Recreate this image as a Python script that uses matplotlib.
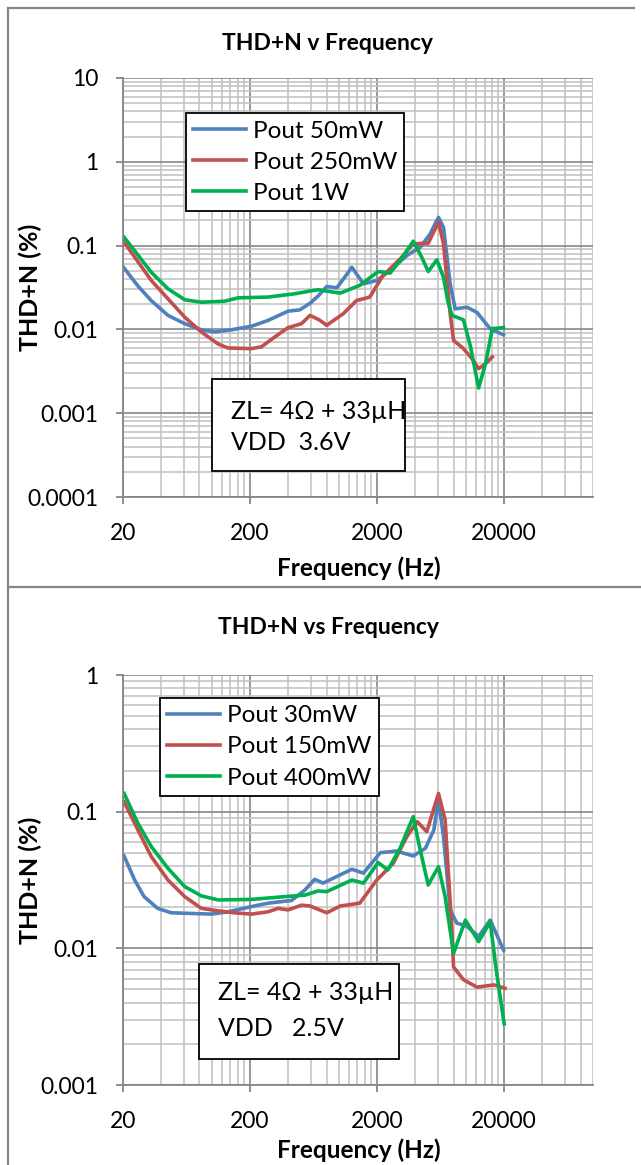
import numpy as np
import matplotlib
matplotlib.use("Agg")
import matplotlib.pyplot as plt
from matplotlib.ticker import FixedLocator, FixedFormatter, NullFormatter
from matplotlib.patches import Rectangle
from matplotlib.lines import Line2D

plt.rcParams['font.family'] = ['Lato', 'DejaVu Sans']

W, H = 641, 1165

# ---- top chart: VDD 3.6V ----
f_50mw = [20, 26.2, 33.4, 45.2, 61.2, 82.8, 105, 143, 205, 277, 398, 492, 593, 686,
          803, 964, 1150, 1265, 1560, 1988, 2529, 3424, 4365, 5230, 5700, 6082, 6660,
          7515, 8225, 10170, 12190, 15520, 19770]
thd_50mw = [0.056, 0.033, 0.022, 0.0147, 0.0117, 0.0099, 0.0093, 0.0099, 0.0109, 0.0128,
            0.0165, 0.0171, 0.0205, 0.025, 0.0325, 0.0314, 0.045, 0.0552, 0.035, 0.0383,
            0.0504, 0.076, 0.0955, 0.138, 0.18, 0.217, 0.165, 0.035, 0.0176, 0.0184,
            0.016, 0.0102, 0.0086]

f_250mw = [20.4, 33.4, 61.2, 82.8, 112, 134, 205, 246, 312, 398, 508, 593, 700, 803,
           1083, 1378, 1750, 2227, 3030, 3850, 5050, 6082, 6660, 7515, 7990, 9560,
           11120, 12580, 14250, 16140]
thd_250mw = [0.11, 0.0383, 0.014, 0.0093, 0.0067, 0.006, 0.0059, 0.0062, 0.0081, 0.0105,
             0.0117, 0.0147, 0.013, 0.0112, 0.0154, 0.0221, 0.0243, 0.044, 0.069, 0.105,
             0.107, 0.19, 0.105, 0.0154, 0.0074, 0.0059, 0.0045, 0.0034, 0.0039, 0.0047]

f_1w = [20.4, 33.4, 45.2, 61.2, 82.8, 126, 161, 277, 448, 593, 686, 1025, 1460, 2036,
        2529, 3030, 3850, 4490, 5050, 5900, 6660, 7180, 7750, 9560, 10870, 12580, 14250,
        16140, 19770]
thd_1w = [0.126, 0.048, 0.0305, 0.0226, 0.0211, 0.0217, 0.0238, 0.0243, 0.0266, 0.0287,
          0.0297, 0.0271, 0.0335, 0.049, 0.047, 0.066, 0.113, 0.0726, 0.049, 0.0675,
          0.042, 0.0221, 0.0147, 0.013, 0.0062, 0.002, 0.0039, 0.0102, 0.0105]

# ---- bottom chart: VDD 2.5V ----
f_30mw = [20.4, 24.7, 29.3, 37.5, 47.9, 69, 99, 134, 205, 277, 424, 540, 646, 750, 1265,
          1560, 2119, 2840, 3850, 4800, 5590, 6082, 6660, 7515, 8480, 10170, 12580,
          15520, 19770]
thd_30mw = [0.0474, 0.0316, 0.0239, 0.0196, 0.0182, 0.018, 0.0178, 0.0185, 0.0202, 0.0214,
            0.0224, 0.0267, 0.032, 0.030, 0.0379, 0.0355, 0.0501, 0.0515, 0.0474, 0.054,
            0.0735, 0.122, 0.0656, 0.0191, 0.0153, 0.0145, 0.0122, 0.0161, 0.0097]

f_150mw = [20.4, 26.2, 33.4, 45.2, 61.2, 82.8, 112, 150, 205, 277, 332, 398, 508, 593,
           803, 1025, 1460, 1988, 2680, 3424, 4130, 4920, 6082, 6860, 7750, 7990, 9560,
           12190, 16630, 20300]
thd_150mw = [0.118, 0.0735, 0.0469, 0.0316, 0.0239, 0.0196, 0.0188, 0.0182, 0.0178, 0.0185,
             0.0196, 0.0191, 0.0207, 0.0204, 0.0182, 0.0204, 0.0214, 0.0316, 0.0419,
             0.0656, 0.0845, 0.0714, 0.136, 0.087, 0.0136, 0.0073, 0.0059, 0.0052, 0.0054,
             0.0051]

f_400mw = [20.4, 26.2, 33.4, 45.2, 61.2, 82.8, 112, 205, 375, 540, 686, 803, 1265, 1560,
           2036, 2430, 3030, 3850, 4365, 5050, 6082, 6860, 7990, 9900, 12580, 15520,
           17300, 20000]
thd_400mw = [0.136, 0.0822, 0.0555, 0.0385, 0.0283, 0.0242, 0.0226, 0.0228, 0.0239, 0.0245,
             0.0263, 0.026, 0.0316, 0.030, 0.0424, 0.0375, 0.054, 0.092, 0.0525, 0.0291,
             0.0396, 0.0239, 0.0092, 0.0161, 0.0112, 0.0156, 0.007, 0.0028]

x_ticks = [20, 200, 2000, 20000]
x_ticklabels = ['20', '200', '2000', '20000']
y_ticks_top = [0.0001, 0.001, 0.01, 0.1, 1, 10]
y_labels_top = ['0.0001', '0.001', '0.01', '0.1', '1', '10']
y_ticks_bot = [0.001, 0.01, 0.1, 1]
y_labels_bot = ['0.001', '0.01', '0.1', '1']

BLUE, RED, GREEN = '#4F81BD', '#C0504D', '#00B050'
MAJ, MIN = '#868686', '#C0C0C0'
FS = 16.5      # tick labels
LFS = 17.5     # legend
BFS = 18       # note boxes


def fx(px):
    return px / W


def fy(py):
    return 1 - py / H


def setup_axes(ax, yticks, ylabels):
    ax.set_xscale('log')
    ax.set_yscale('log')
    ax.set_xlim(20, 100000)
    ax.set_ylim(yticks[0], yticks[-1])
    ax.xaxis.set_major_locator(FixedLocator(x_ticks))
    ax.xaxis.set_major_formatter(FixedFormatter(x_ticklabels))
    xminor = [d * k for d in [20, 200, 2000, 20000] for k in range(2, 10)]
    ax.xaxis.set_minor_locator(FixedLocator(xminor))
    ax.xaxis.set_minor_formatter(NullFormatter())
    ax.yaxis.set_major_locator(FixedLocator(yticks))
    ax.yaxis.set_major_formatter(FixedFormatter(ylabels))
    yminor = [d * k for d in yticks[:-1] for k in range(2, 10)]
    ax.yaxis.set_minor_locator(FixedLocator(yminor))
    ax.yaxis.set_minor_formatter(NullFormatter())
    ax.grid(True, which='minor', color=MIN, lw=1.1, zorder=0)
    ax.grid(True, which='major', color=MAJ, lw=1.2, zorder=0)
    ax.set_axisbelow(True)
    for s in ['top', 'right']:
        ax.spines[s].set_visible(False)
    for s in ['left', 'bottom']:
        ax.spines[s].set_color(MAJ)
        ax.spines[s].set_linewidth(1.3)
    ax.tick_params(which='major', length=5, width=1.3, color=MAJ, labelsize=FS)
    ax.tick_params(which='minor', length=0)
    ax.tick_params(axis='x', pad=14)
    ax.tick_params(axis='y', pad=13)


def add_legend(ax, anchor):
    leg = ax.legend(loc='upper left', bbox_to_anchor=anchor, borderaxespad=0,
                    fontsize=LFS, frameon=True, fancybox=False, edgecolor='black',
                    framealpha=1, handlelength=2.15, labelspacing=0.42, borderpad=0.3,
                    handletextpad=0.3)
    leg.get_frame().set_linewidth(1.3)


fig = plt.figure(figsize=(W / 100, H / 100), dpi=100)

# top axes: x 123..593, y 78..497
ax1 = fig.add_axes([fx(123), fy(497), fx(593) - fx(123), (497 - 78) / H])
setup_axes(ax1, y_ticks_top, y_labels_top)
ax1.plot(f_50mw, thd_50mw, color=BLUE, lw=2.6, label='Pout 50mW')
ax1.plot(f_250mw, thd_250mw, color=RED, lw=2.6, label='Pout 250mW')
ax1.plot(f_1w, thd_1w, color=GREEN, lw=2.6, label='Pout 1W')
add_legend(ax1, (0.134, 0.916))

# bottom axes: x 123..593, y 675..1085
ax2 = fig.add_axes([fx(123), fy(1085), fx(593) - fx(123), (1085 - 675) / H])
setup_axes(ax2, y_ticks_bot, y_labels_bot)
ax2.plot(f_30mw, thd_30mw, color=BLUE, lw=2.6, label='Pout 30mW')
ax2.plot(f_150mw, thd_150mw, color=RED, lw=2.6, label='Pout 150mW')
ax2.plot(f_400mw, thd_400mw, color=GREEN, lw=2.6, label='Pout 400mW')
add_legend(ax2, (0.079, 0.944))

# titles and axis labels
fig.text(fx(328), fy(44), 'THD+N v Frequency', ha='center', va='center',
         fontsize=16.5, fontweight='bold')
fig.text(fx(328), fy(627), 'THD+N vs Frequency', ha='center', va='center',
         fontsize=16.5, fontweight='bold')
for yc, yl in [(568, 287), (1150, 880)]:
    fig.text(fx(359), fy(yc), 'Frequency (Hz)', ha='center', va='center',
             fontsize=17.5, fontweight='bold')
    fig.text(fx(30), fy(yl), 'THD+N (%)', ha='center', va='center', rotation=90,
             fontsize=18, fontweight='bold')

# annotation boxes
for (x0, y0, x1, y1, tx, l1, l2, lines) in [
        (212, 379, 405, 471, 231, 411, 443, ('ZL= 4\u03a9 + 33\u00b5H', 'VDD  3.6V')),
        (199, 964, 399, 1059, 218, 992, 1029, ('ZL= 4\u03a9 + 33\u00b5H', 'VDD   2.5V'))]:
    fig.add_artist(Rectangle((fx(x0), fy(y1)), fx(x1) - fx(x0), (y1 - y0) / H,
                             transform=fig.transFigure, facecolor='white',
                             edgecolor='black', lw=1.3, zorder=5))
    fig.text(fx(tx), fy(l1), lines[0], ha='left', va='center', fontsize=BFS, zorder=6)
    fig.text(fx(tx), fy(l2), lines[1], ha='left', va='center', fontsize=BFS, zorder=6)

# chart borders
bc = '#868686'
fig.add_artist(Line2D([fx(8), fx(8)], [fy(8), fy(1165)], transform=fig.transFigure,
                      color=bc, lw=1.6))
fig.add_artist(Line2D([fx(8), fx(634)], [fy(8), fy(8)], transform=fig.transFigure,
                      color=bc, lw=1.6))
fig.add_artist(Line2D([fx(8), fx(641)], [fy(587), fy(587)], transform=fig.transFigure,
                      color=bc, lw=1.6))

fig.savefig('out.png', dpi=100)
